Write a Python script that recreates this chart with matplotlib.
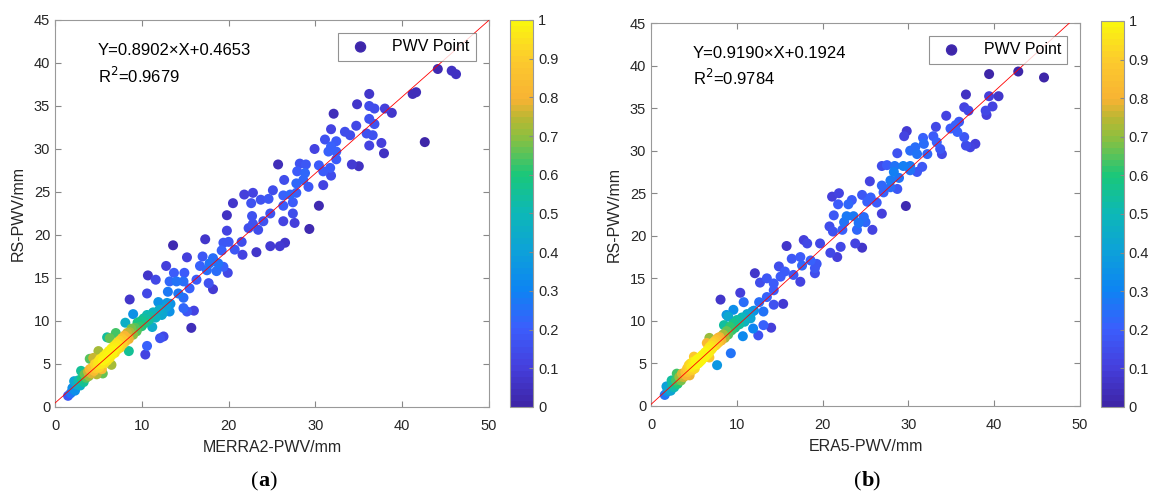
import numpy as np
import matplotlib
matplotlib.use('Agg')
import matplotlib.pyplot as plt
from matplotlib.colors import LinearSegmentedColormap

plt.rcParams['font.family'] = ['Liberation Sans', 'DejaVu Sans']

# 面板(a) MERRA2 vs RS (読み取り値)
merra_x = [44.1, 45.7, 46.2, 41.2, 41.6, 36.2, 34.8, 36.2, 36.8, 38.0, 38.8, 32.1, 36.2, 34.7, 36.8,
           31.8, 33.4, 34.0, 35.9, 36.6, 31.1, 32.4, 31.8, 37.6, 36.2, 42.6, 29.9, 31.5, 32.4, 37.9,
           32.4, 34.2, 35.0, 25.7, 28.2, 28.9, 30.4, 31.7, 27.9, 28.8, 30.9, 31.8, 26.4, 27.8, 28.6,
           30.9, 29.2, 21.8, 22.8, 25.1, 26.3, 27.1, 27.8, 23.7, 24.6, 20.5, 22.6, 26.3, 27.4, 30.4,
           19.8, 24.8, 22.7, 27.4, 24.0, 22.8, 26.3, 27.6, 22.3, 23.4, 19.8, 29.3, 17.3, 19.4, 20.0,
           21.5, 26.5, 25.9, 24.8, 13.6, 20.7, 23.2, 21.6, 19.2, 17.0, 15.2, 18.2, 17.8, 18.8, 19.4,
           16.7, 12.8, 17.5, 18.6, 19.9, 13.7, 14.9, 10.7, 11.6, 13.2, 14.0, 14.8, 16.3, 17.7, 15.5,
           13.0, 18.2, 10.6, 14.2, 14.8, 8.6, 11.9, 12.9, 14.8, 15.2, 16.0, 13.2, 12.3, 15.7, 12.1,
           12.5, 10.6, 10.4, 6.3, 8.1,
           1.5, 1.8, 2.0, 2.3, 2.5, 2.7, 2.9, 3.1, 3.3, 3.4, 3.6, 3.8, 3.9, 4.0, 4.2, 4.3, 4.5, 4.6,
           4.7, 4.8, 4.9, 5.0, 5.1, 5.2, 5.3, 5.4, 5.5, 5.6, 5.7, 5.8, 5.9, 6.0, 6.1, 6.2, 6.3, 6.4,
           6.5, 6.6, 6.7, 6.8, 6.9, 7.0, 7.1, 7.2, 7.3, 7.4, 7.5, 7.6, 7.7, 7.8, 7.9, 8.0, 8.1, 8.2,
           8.3, 8.5, 8.6, 8.8, 9.0, 9.2, 9.4, 9.5, 9.7, 9.9, 10.0, 10.2, 10.4, 10.6, 10.8, 11.0, 11.3,
           11.6, 12.0, 12.4, 12.8, 13.3, 3.0, 4.0, 6.0, 7.0, 9.0, 5.5, 8.5, 11.2, 2.2, 5.0, 6.5, 4.4]
merra_y = [39.3, 39.1, 38.7, 36.4, 36.6, 36.4, 35.2, 35.0, 34.7, 34.7, 34.2, 34.1, 33.5, 32.7, 32.9,
           32.3, 32.0, 31.6, 31.8, 31.6, 31.1, 30.9, 30.3, 30.7, 30.4, 30.8, 30.0, 29.7, 29.7, 29.5,
           28.8, 28.2, 28.0, 28.2, 28.3, 28.2, 28.1, 27.8, 27.4, 27.2, 27.4, 26.9, 26.4, 26.0, 26.4,
           25.8, 25.6, 24.7, 24.9, 25.2, 24.6, 24.7, 24.9, 24.1, 24.2, 23.7, 23.7, 23.4, 23.8, 23.4,
           22.3, 22.5, 22.2, 22.5, 21.6, 21.3, 21.6, 21.4, 20.8, 20.6, 20.5, 20.7, 19.5, 19.1, 19.2,
           19.2, 19.1, 18.7, 18.7, 18.8, 18.3, 18.0, 17.7, 18.2, 17.5, 17.4, 17.3, 16.7, 16.7, 16.3,
           16.4, 16.4, 15.9, 15.8, 15.6, 15.6, 15.6, 15.3, 14.8, 14.6, 14.6, 14.6, 14.8, 14.4, 13.8,
           13.4, 13.7, 13.2, 13.2, 12.7, 12.5, 12.2, 12.1, 11.5, 11.1, 11.2, 11.1, 10.7, 9.2, 8.0,
           8.2, 7.1, 6.1, 8.0, 9.8,
           1.3, 1.6, 2.2, 1.9, 2.6, 3.1, 2.5, 3.3, 2.9, 3.8, 3.4, 4.1, 3.6, 4.4, 3.9, 4.6, 4.2, 5.0,
           4.5, 3.8, 4.9, 5.3, 4.6, 5.6, 5.0, 4.4, 5.4, 5.9, 5.1, 5.6, 6.2, 5.4, 6.0, 6.5, 5.7, 6.3,
           6.8, 6.1, 6.6, 7.1, 6.3, 6.9, 7.4, 6.7, 7.2, 7.7, 6.9, 7.5, 8.0, 7.3, 7.8, 8.3, 7.6, 8.1,
           8.6, 7.9, 8.7, 9.1, 8.4, 9.2, 8.8, 9.8, 9.3, 10.0, 9.4, 10.3, 9.8, 10.7, 10.1, 10.5, 11.0,
           10.4, 11.3, 10.9, 11.6, 12.0, 4.2, 5.6, 8.1, 8.6, 10.8, 3.9, 6.5, 9.3, 3.0, 6.5, 4.9, 5.7]

# 面板(b) ERA5 vs RS
era_x = [42.8, 45.8, 39.4, 36.7, 39.4, 40.5, 39.8, 39.0, 39.1, 36.5, 37.0, 34.4, 35.9, 35.5, 34.9,
         33.2, 35.7, 36.5, 36.7, 37.2, 37.8, 29.8, 29.5, 32.9, 33.3, 31.7, 31.8, 30.8, 30.2, 33.7,
         33.9, 28.7, 31.0, 32.2, 26.9, 27.5, 28.4, 29.4, 30.2, 31.6, 28.3, 31.0, 30.2, 28.9, 27.9,
         25.5, 26.9, 27.9, 28.7, 21.1, 21.9, 24.6, 25.6, 27.1, 23.4, 23.0, 21.8, 25.2, 26.3, 29.7,
         26.9, 21.3, 22.8, 23.6, 24.8, 22.5, 24.2, 25.0, 20.8, 21.2, 22.3, 24.0, 25.8, 19.7, 17.8,
         18.2, 15.8, 23.8, 24.6, 20.9, 21.7, 22.1, 17.4, 16.4, 18.6, 19.3, 19.1, 17.6, 14.9, 15.6,
         19.1, 12.1, 17.4, 16.6, 13.5, 14.3, 12.7, 15.1, 10.4, 8.1, 10.8, 12.6, 13.5, 14.3, 15.4,
         14.3, 13.1, 11.8, 8.8, 9.6, 13.1, 14.0, 10.7, 12.5, 11.9, 6.8, 9.3, 7.7,
         1.6, 1.9, 2.1, 2.3, 2.5, 2.7, 2.9, 3.1, 3.3, 3.5, 3.6, 3.8, 4.0, 4.1, 4.2, 4.3, 4.4, 4.5,
         4.6, 4.7, 4.8, 4.9, 5.0, 5.1, 5.2, 5.3, 5.4, 5.5, 5.6, 5.7, 5.8, 5.9, 6.0, 6.2, 6.3, 6.5,
         6.6, 6.7, 6.8, 6.9, 7.0, 7.1, 7.2, 7.3, 7.4, 7.5, 7.6, 7.7, 7.8, 7.9, 8.0, 8.2, 8.4, 8.6,
         8.8, 9.0, 9.2, 9.4, 9.6, 9.8, 10.0, 10.3, 10.6, 10.9, 11.2, 11.6, 12.0, 3.0, 5.0, 6.5, 8.5,
         4.5, 6.8, 9.0, 2.4, 1.8]
era_y = [39.3, 38.6, 39.0, 36.6, 36.4, 36.4, 35.2, 34.7, 34.2, 35.1, 34.7, 34.1, 33.4, 33.0, 32.6,
         32.8, 32.2, 31.6, 30.6, 30.4, 30.8, 32.3, 31.7, 31.7, 31.0, 31.5, 30.8, 30.4, 30.0, 30.2,
         29.6, 29.7, 29.6, 29.6, 28.2, 28.3, 28.2, 28.2, 28.2, 28.1, 27.5, 27.5, 27.7, 26.8, 26.5,
         26.4, 25.9, 25.7, 25.5, 24.6, 25.0, 24.8, 24.5, 25.1, 24.2, 23.7, 23.7, 24.0, 23.9, 23.5,
         22.6, 22.4, 22.3, 22.3, 22.2, 21.6, 21.5, 21.6, 21.1, 20.5, 20.7, 20.7, 20.7, 19.1, 19.5,
         19.1, 18.8, 19.1, 18.6, 18.0, 17.5, 18.7, 17.5, 17.3, 17.1, 16.7, 16.2, 16.5, 16.4, 15.8,
         15.6, 15.6, 14.6, 15.4, 15.0, 14.4, 14.5, 15.2, 13.3, 12.5, 12.2, 12.2, 12.8, 13.6, 12.0,
         11.9, 11.1, 11.1, 10.7, 11.3, 9.5, 9.2, 8.2, 8.3, 9.1, 8.0, 6.2, 4.8,
         1.3, 1.7, 2.0, 1.8, 2.5, 2.2, 3.0, 2.6, 3.4, 3.0, 3.8, 3.4, 4.0, 3.6, 4.4, 4.0, 4.8, 4.3,
         5.0, 4.6, 4.2, 5.2, 4.8, 4.4, 5.3, 4.9, 5.5, 5.0, 5.6, 5.2, 5.8, 5.4, 6.0, 5.7, 6.3, 6.0,
         6.6, 6.2, 6.9, 6.5, 7.1, 6.7, 7.4, 7.0, 7.6, 7.1, 7.8, 7.3, 8.0, 7.5, 8.1, 7.7, 8.4, 8.0,
         8.8, 8.4, 9.3, 8.9, 9.7, 9.2, 10.1, 9.6, 10.4, 9.9, 10.8, 10.3, 11.2, 3.8, 5.8, 7.4, 9.5,
         3.6, 5.7, 10.5, 3.0, 2.3]

fit_a = (0.8902, 0.4653, '0.9679')
fit_b = (0.9190, 0.1924, '0.9784')
xlabels = ['MERRA2-PWV/mm', 'ERA5-PWV/mm']
tags = ['a', 'b']

# MATLAB parula に近いカラーマップ
parula = LinearSegmentedColormap.from_list('parula', [
    (0.00, (0.242, 0.150, 0.660)),
    (0.10, (0.270, 0.250, 0.870)),
    (0.20, (0.230, 0.370, 0.990)),
    (0.30, (0.050, 0.520, 0.950)),
    (0.40, (0.050, 0.630, 0.850)),
    (0.50, (0.050, 0.720, 0.720)),
    (0.60, (0.100, 0.780, 0.480)),
    (0.70, (0.550, 0.750, 0.250)),
    (0.75, (0.720, 0.720, 0.200)),
    (0.80, (0.970, 0.700, 0.200)),
    (0.90, (0.990, 0.790, 0.180)),
    (1.00, (0.980, 0.960, 0.060))], N=64)


def density(x, y, h=1.3):
    x = np.asarray(x)
    y = np.asarray(y)
    d2 = (x[:, None] - x[None, :])**2 + (y[:, None] - y[None, :])**2
    z = np.exp(-d2 / (2*h*h)).sum(axis=1)
    return (z - z.min()) / (z.max() - z.min())


fig = plt.figure(figsize=(11.49, 4.97), dpi=100)
ax_pos = [[0.0479, 0.1811, 0.3777, 0.7787], [0.5666, 0.1831, 0.3734, 0.7706]]
cb_pos = [[0.4439, 0.1811, 0.0200, 0.7787], [0.9582, 0.1811, 0.0200, 0.7767]]
tag_x = [263, 866]
gray = '#262626'

for i, (xs, ys, fit) in enumerate([(merra_x, merra_y, fit_a), (era_x, era_y, fit_b)]):
    ax = fig.add_axes(ax_pos[i])
    z = density(xs, ys)
    order = np.argsort(z)
    xs = np.asarray(xs)[order]
    ys = np.asarray(ys)[order]
    z = z[order]
    sc = ax.scatter(xs, ys, c=z, cmap=parula, vmin=0, vmax=1, s=52, edgecolors='none',
                    label='PWV Point', zorder=2)
    lx = np.array([0, 50])
    ax.plot(lx, fit[0]*lx + fit[1], color='red', lw=0.6, zorder=3)
    ax.set_xlim(0, 50)
    ax.set_ylim(0, 45)
    ax.set_xticks(range(0, 51, 10))
    ax.set_yticks(range(0, 46, 5))
    ax.tick_params(direction='in', top=True, right=True, labelsize=10.5, colors='#888888',
                   labelcolor=gray, length=4)
    ax.tick_params(axis='x', pad=9)
    for sp in ax.spines.values():
        sp.set_color('#999999')
    ax.set_xlabel(xlabels[i], fontsize=11.5, color=gray, labelpad=5)
    ax.set_ylabel('RS-PWV/mm', fontsize=11.5, color=gray, labelpad=6)
    ax.text(4.9, 41.4, 'Y=%.4f×X+%.4f' % (fit[0], fit[1]), fontsize=12, color='black', va='center')
    ax.text(4.9, 38.5, 'R$^2$=' + fit[2], fontsize=12, color='black', va='center')
    leg = ax.legend(loc='upper right', fontsize=11.5, frameon=True, fancybox=False,
                    edgecolor='#777777', handletextpad=1.0, borderaxespad=0.8, markerscale=1.0)
    leg.legend_handles[0].set_color(parula(0.02))
    leg.get_frame().set_linewidth(0.8)

    cax = fig.add_axes(cb_pos[i])
    cb = fig.colorbar(sc, cax=cax, ticks=np.linspace(0, 1, 11))
    cb.ax.set_yticklabels(['0', '0.1', '0.2', '0.3', '0.4', '0.5', '0.6', '0.7', '0.8', '0.9', '1'])
    cb.ax.tick_params(direction='in', labelsize=10.5, colors='#888888', labelcolor=gray, length=3)
    cb.outline.set_edgecolor('#999999')

    cx = tag_x[i] / 1149
    fig.text(cx - 0.004, 0.022, '(', fontsize=16, family=['Liberation Serif'], ha='right', va='baseline')
    fig.text(cx - 0.004, 0.022, tags[i], fontsize=16, family=['Liberation Serif'], weight='bold',
             ha='left', va='baseline')
    fig.text(cx + 0.0058, 0.022, ')', fontsize=16, family=['Liberation Serif'], ha='left', va='baseline')

fig.savefig('out.png', dpi=100)
